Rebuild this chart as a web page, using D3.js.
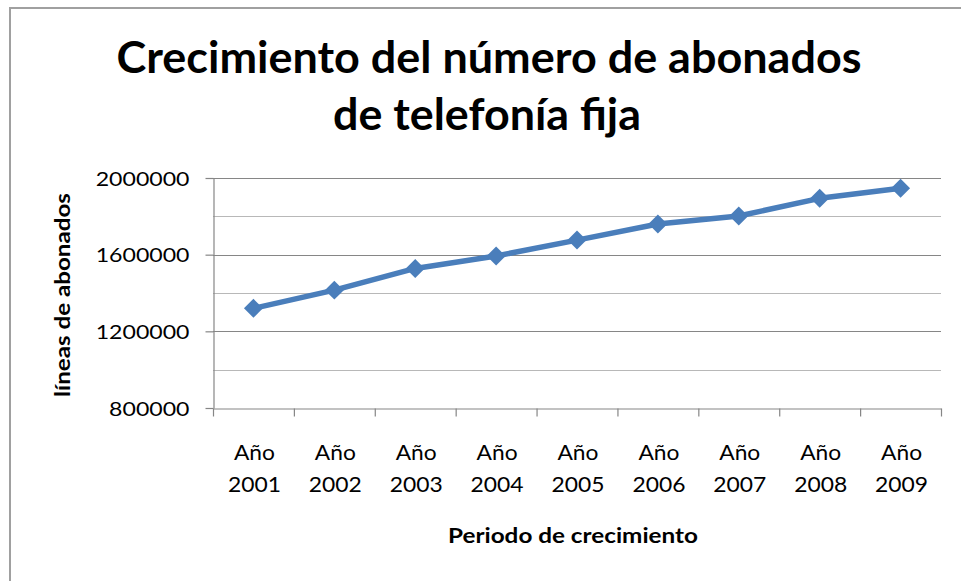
<!DOCTYPE html>
<html>
<head>
<meta charset="utf-8">
<script src="https://cdn.jsdelivr.net/npm/d3@7"></script>
<style>
  body { margin: 0; background: #fff; }
  text { font-family: Lato, "Open Sans", sans-serif; fill: #000; }
</style>
</head>
<body>
<script>
// datos
var yearLabels = ["2001", "2002", "2003", "2004", "2005", "2006", "2007", "2008", "2009"];
var abonados = [1320000, 1415000, 1528000, 1593000, 1676000, 1760000, 1802000, 1894000, 1946000];
var yTicks = [800000, 1200000, 1600000, 2000000];
var yGrid = [1000000, 1200000, 1400000, 1600000, 1800000, 2000000];
var titleLines = ["Crecimiento del número de abonados", "de telefonía fija"];

var width = 961, height = 581;
var plot = {left: 213, right: 941, top: 178, bottom: 408};
var lineColor = "#4a7ebb";

var svg = d3.select("body").append("svg")
    .attr("width", width)
    .attr("height", height);

// marco del grafico
svg.append("rect")
    .attr("x", 10).attr("y", 8)
    .attr("width", 1000).attr("height", 1000)
    .attr("fill", "#fff")
    .attr("stroke", "#a0a0a0")
    .attr("stroke-width", 2);

function fit(sel, w) {
    sel.attr("textLength", w).attr("lengthAdjust", "spacingAndGlyphs");
}

// titulo
svg.append("text")
    .attr("x", 489).attr("y", 73)
    .attr("text-anchor", "middle")
    .attr("font-size", 44).attr("font-weight", "bold")
    .text(titleLines[0])
    .call(fit, 745);
svg.append("text")
    .attr("x", 487).attr("y", 130)
    .attr("text-anchor", "middle")
    .attr("font-size", 44).attr("font-weight", "bold")
    .text(titleLines[1])
    .call(fit, 308);

var x = d3.scaleBand()
    .domain(yearLabels)
    .range([plot.left, plot.right])
    .padding(0);

var xIdx = d3.scaleLinear()
    .domain([0, yearLabels.length])
    .range([plot.left, plot.right]);

var y = d3.scaleLinear()
    .domain([800000, 2000000])
    .range([plot.bottom, plot.top]);

// lineas de division
svg.append("g").selectAll("line")
    .data(yGrid)
    .enter().append("line")
    .attr("x1", plot.left).attr("x2", plot.right)
    .attr("y1", function(d){ return Math.round(y(d)) + 0.5; })
    .attr("y2", function(d){ return Math.round(y(d)) + 0.5; })
    .attr("stroke", function(d){ return d % 400000 == 0 ? "#868686" : "#b8b8b8"; })
    .attr("stroke-width", 1.2);

// eje Y
var gY = svg.append("g")
    .attr("transform", "translate(" + (plot.left + 0.5) + ",0)")
    .call(d3.axisLeft(y).tickValues(yTicks).tickSize(8).tickSizeOuter(0).tickPadding(16)
        .tickFormat(function(d){ return d; }));
gY.selectAll("path, line").attr("stroke", "#868686").attr("stroke-width", 1.2);
gY.selectAll("text")
    .attr("font-size", 19.5)
    .attr("font-family", "Lato")
    .attr("fill", "#000")
    .attr("dy", "0.36em")
    .each(function(d){
        d3.select(this).call(fit, String(d).length * 13.4);
    });

// eje X (marcas entre categorias)
var gX = svg.append("g")
    .attr("transform", "translate(0," + (plot.bottom + 0.5) + ")")
    .call(d3.axisBottom(xIdx).tickValues(d3.range(yearLabels.length + 1)).tickSize(8).tickSizeOuter(0)
        .tickFormat(""));
gX.selectAll("path, line").attr("stroke", "#868686").attr("stroke-width", 1.2);

var xLabels = svg.append("g").selectAll("g")
    .data(yearLabels)
    .enter().append("g")
    .attr("transform", function(d){ return "translate(" + (x(d) + x.bandwidth() / 2 + 1) + ",0)"; });
xLabels.append("text")
    .attr("y", 460)
    .attr("text-anchor", "middle")
    .attr("font-size", 21)
    .text("Año")
    .call(fit, 41);
xLabels.append("text")
    .attr("y", 492)
    .attr("text-anchor", "middle")
    .attr("font-size", 21)
    .text(function(d){ return d; })
    .call(fit, 53);

// titulos de ejes
svg.append("text")
    .attr("x", 573).attr("y", 543)
    .attr("text-anchor", "middle")
    .attr("font-size", 21).attr("font-weight", "bold")
    .text("Periodo de crecimiento")
    .call(fit, 250);

svg.append("text")
    .attr("transform", "translate(70,295) rotate(-90)")
    .attr("text-anchor", "middle")
    .attr("font-size", 20).attr("font-weight", "bold")
    .text("líneas de abonados")
    .call(fit, 204);

// serie
var line = d3.line()
    .x(function(d, i){ return x(yearLabels[i]) + x.bandwidth() / 2; })
    .y(function(d){ return y(d); });

svg.append("path")
    .datum(abonados)
    .attr("d", line)
    .attr("fill", "none")
    .attr("stroke", lineColor)
    .attr("stroke-width", 5.5)
    .attr("stroke-linejoin", "round");

svg.append("g").selectAll("path")
    .data(abonados)
    .enter().append("path")
    .attr("transform", function(d, i){
        return "translate(" + (x(yearLabels[i]) + x.bandwidth() / 2) + "," + y(d) + ")";
    })
    .attr("d", d3.symbol().type(d3.symbolDiamond2).size(230))
    .attr("fill", lineColor);
</script>
</body>
</html>
